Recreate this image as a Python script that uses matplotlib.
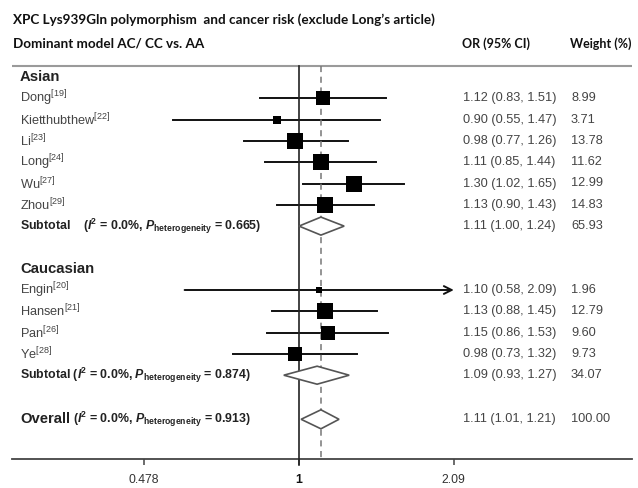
import numpy as np
import matplotlib
matplotlib.use("Agg")
import matplotlib.pyplot as plt
from matplotlib.transforms import blended_transform_factory

plt.rcParams['mathtext.fontset'] = 'custom'
plt.rcParams['mathtext.rm'] = 'Liberation Sans'
plt.rcParams['mathtext.it'] = 'Liberation Sans:italic'
plt.rcParams['mathtext.bf'] = 'Liberation Sans:bold'
plt.rcParams['mathtext.bfit'] = 'Liberation Sans:italic:bold'
plt.rcParams['mathtext.default'] = 'regular'

# ---- data ----
asian_names = ['Dong', 'Kietthubthew', 'Li', 'Long', 'Wu', 'Zhou']
asian_refs = [19, 22, 23, 24, 27, 29]
asian_or = [1.12, 0.90, 0.98, 1.11, 1.30, 1.13]
asian_lo = [0.83, 0.55, 0.77, 0.85, 1.02, 0.90]
asian_hi = [1.51, 1.47, 1.26, 1.44, 1.65, 1.43]
asian_w = [8.99, 3.71, 13.78, 11.62, 12.99, 14.83]
asian_sub = [1.11, 1.00, 1.24, 65.93]
asian_het = ['0.0%', '0.665']

cauc_names = ['Engin', 'Hansen', 'Pan', 'Ye']
cauc_refs = [20, 21, 26, 28]
cauc_or = [1.10, 1.13, 1.15, 0.98]
cauc_lo = [0.58, 0.88, 0.86, 0.73]
cauc_hi = [2.09, 1.45, 1.53, 1.32]
cauc_w = [1.96, 12.79, 9.60, 9.73]
cauc_sub = [1.09, 0.93, 1.27, 34.07]
cauc_het = ['0.0%', '0.874']

overall = [1.11, 1.01, 1.21, 100.00]
overall_het = ['0.0%', '0.913']

xticks = [0.478, 1, 2.09]
xticklabels = ['0.478', '1', '2.09']

title = "XPC Lys939Gln polymorphism  and cancer risk (exclude Long\u2019s article)"
subtitle = "Dominant model AC/ CC vs. AA"

# ---- layout ----
W, H = 638, 488
fig = plt.figure(figsize=(W / 100, H / 100), dpi=100)
ax = fig.add_axes([0, 0, 1, 1])
ax.set_xscale('log')
x0 = 299.0
ppl = 210.0  # pixels per ln unit
ax.set_xlim(np.exp(-x0 / ppl), np.exp((W - x0) / ppl))
ax.set_ylim(H, 0)
for s in ['top', 'left', 'right']:
    ax.spines[s].set_visible(False)
ax.yaxis.set_visible(False)
ax.patch.set_alpha(0)

tr = blended_transform_factory(fig.transFigure, ax.transData)
def px(x):
    return x / W

step = 21.3
top = 77.0
def row(k):
    return top + step * k

# header texts
ax.text(px(13), 20, title, transform=tr, family='Lato', weight='bold', fontsize=9.7,
        color='#111', va='center', ha='left')
ax.text(px(13), 44, subtitle, transform=tr, family='Lato', weight='bold', fontsize=9.7,
        color='#111', va='center', ha='left')
ax.text(px(462), 44, 'OR (95% CI)', transform=tr, family='Lato', weight='bold', fontsize=9.0,
        color='#111', va='center', ha='left')
ax.text(px(570), 44, 'Weight (%)', transform=tr, family='Lato', weight='bold', fontsize=9.0,
        color='#111', va='center', ha='left')
ax.plot([px(12), px(632)], [66, 66], transform=tr, color='#9a9a9a', lw=1.5, solid_capstyle='butt')

FS = 9.2
def study_rows(names, refs, ors, los, his, ws, k0, arrow_hi=None):
    for i, (n, r, o, lo, hi, w) in enumerate(zip(names, refs, ors, los, his, ws)):
        y = row(k0 + i)
        ax.text(px(20), y, n + '$^{[%d]}$' % r, transform=tr, family='Liberation Sans',
                fontsize=FS, color='#444', va='center', ha='left')
        if arrow_hi is not None and hi >= arrow_hi:
            ax.annotate('', xy=(hi, y), xytext=(lo, y),
                        arrowprops=dict(arrowstyle='->', color='#111', lw=1.4,
                                        shrinkA=0, shrinkB=0, mutation_scale=14))
        else:
            ax.plot([lo, hi], [y, y], color='#111', lw=1.4)
        ax.plot([o], [y], marker='s', color='black', ms=3.17 * np.sqrt(w),
                markeredgewidth=0, linestyle='none', zorder=5)
        ax.text(px(463), y, '%.2f (%.2f, %.2f)' % (o, lo, hi), transform=tr,
                family='Liberation Sans', fontsize=FS, color='#444', va='center', ha='left')
        ax.text(px(571), y, '%.2f' % w, transform=tr,
                family='Liberation Sans', fontsize=FS, color='#444', va='center', ha='left')

def diamond(vals, y, half=9):
    o, lo, hi, w = vals
    ax.fill([lo, o, hi, o, lo], [y, y - half, y, y + half, y], facecolor='white',
            edgecolor='#555', lw=1.2, zorder=4)
    ax.text(px(463), y, '%.2f (%.2f, %.2f)' % (o, lo, hi), transform=tr,
            family='Liberation Sans', fontsize=FS, color='#444', va='center', ha='left')
    ax.text(px(571), y, '%.2f' % w, transform=tr,
            family='Liberation Sans', fontsize=FS, color='#444', va='center', ha='left')

def het_text(x, y, prefix, het, size=8.9):
    s = (prefix + '($\\mathbfit{I}^{2}$ = ' + het[0] + ', $\\mathbfit{P}_{\\mathbf{heterogeneity}}$ = '
         + het[1] + ')')
    ax.text(px(x), y, s, transform=tr, family='Liberation Sans', weight='bold',
            fontsize=size, color='#222', va='center', ha='left')

# Asian
ax.text(px(20), row(0), 'Asian', transform=tr, family='Liberation Sans', weight='bold',
        fontsize=10.7, color='#222', va='center', ha='left')
study_rows(asian_names, asian_refs, asian_or, asian_lo, asian_hi, asian_w, 1)
het_text(20, row(7), 'Subtotal    ', asian_het)
diamond(asian_sub, row(7))

# Caucasian
ax.text(px(20), row(9), 'Caucasian', transform=tr, family='Liberation Sans', weight='bold',
        fontsize=10.7, color='#222', va='center', ha='left')
study_rows(cauc_names, cauc_refs, cauc_or, cauc_lo, cauc_hi, cauc_w, 10, arrow_hi=2.09)
het_text(20, row(14), 'Subtotal ', cauc_het)
diamond(cauc_sub, row(14))

# Overall
yo = row(16) + 1.5
ax.text(px(20), yo, 'Overall', transform=tr, family='Liberation Sans', weight='bold',
        fontsize=10.7, color='#222', va='center', ha='left')
het_text(73, yo, '', overall_het)
diamond(overall, yo, half=9.5)

# reference lines
ax.plot([1, 1], [66, 465], color='#222', lw=1.2, zorder=3)
ax.plot([overall[0], overall[0]], [66, 459], color='#777', lw=1.1, ls=(0, (4, 3)), zorder=3)

# bottom axis
ax.spines['bottom'].set_position(('data', 459))
ax.spines['bottom'].set_bounds(np.exp((12 - x0) / ppl), np.exp((632 - x0) / ppl))
ax.spines['bottom'].set_color('#444')
ax.spines['bottom'].set_linewidth(1.3)
ax.set_xticks(xticks)
ax.set_xticks([], minor=True)
ax.set_xticklabels(xticklabels)
ax.tick_params(axis='x', which='major', direction='out', length=4, width=1.1, color='#444',
               pad=7, labelsize=8.8, labelcolor='#333')
for lab in ax.get_xticklabels():
    lab.set_family('Liberation Sans')
    if lab.get_text() == '1':
        lab.set_weight('bold')
        lab.set_color('#111')

fig.savefig('out.png', dpi=100)
